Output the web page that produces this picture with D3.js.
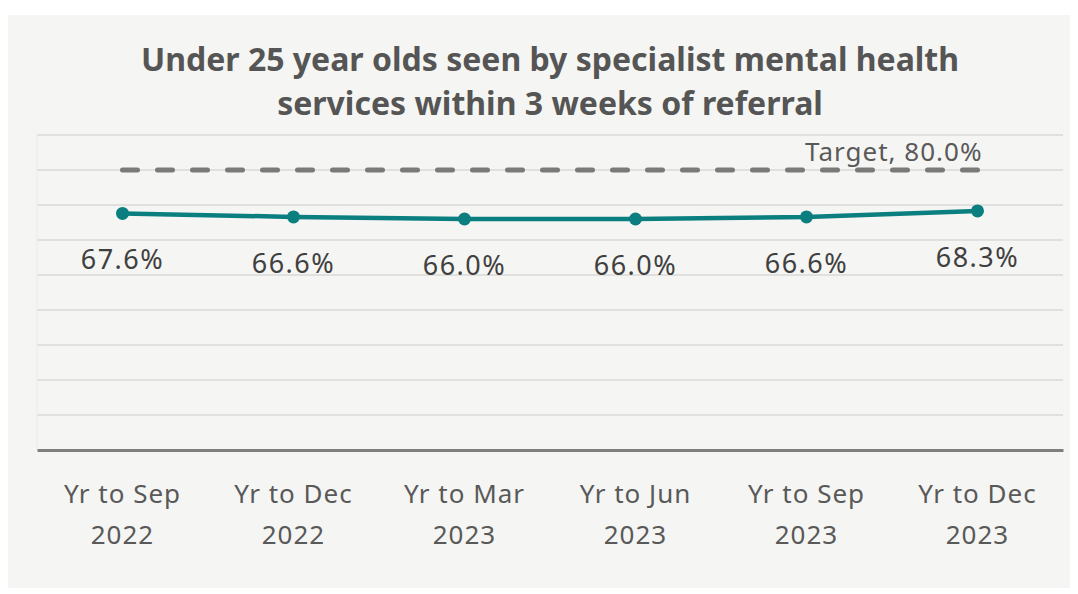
<!DOCTYPE html>
<html>
<head>
<meta charset="utf-8">
<script src="https://cdn.jsdelivr.net/npm/d3@7"></script>
<style>
  html, body { margin: 0; padding: 0; background: #ffffff; }
  svg { display: block; }
</style>
</head>
<body>
<svg id="chart" width="1078" height="594"></svg>
<script>
// Chart data
const periods = ["Yr to Sep 2022", "Yr to Dec 2022", "Yr to Mar 2023", "Yr to Jun 2023", "Yr to Sep 2023", "Yr to Dec 2023"];
const periodLines = [["Yr to Sep", "2022"], ["Yr to Dec", "2022"], ["Yr to Mar", "2023"], ["Yr to Jun", "2023"], ["Yr to Sep", "2023"], ["Yr to Dec", "2023"]];
const seenWithin3Weeks = [67.6, 66.6, 66.0, 66.0, 66.6, 68.3];
const targetValue = 80.0;
const gridTicks = [0, 10, 20, 30, 40, 50, 60, 70, 80, 90];
const titleLines = ["Under 25 year olds seen by specialist mental health", "services within 3 weeks of referral"];

const svg = d3.select("#chart");
const font = "'Noto Sans', sans-serif";

// Panel background
svg.append("rect")
  .attr("x", 8).attr("y", 15)
  .attr("width", 1062).attr("height", 573)
  .attr("fill", "#f5f5f3");

const plot = { left: 37, right: 1063, top: 135, bottom: 450 };

const x = d3.scaleBand().domain(periods).range([plot.left, plot.right]);
const y = d3.scaleLinear().domain([0, 90]).range([plot.bottom, plot.top]);
const cx = d => x(d) + x.bandwidth() / 2;

// Title
svg.append("g").selectAll("text")
  .data(titleLines)
  .join("text")
  .attr("x", 550)
  .attr("y", (d, i) => 71 + i * 44)
  .attr("text-anchor", "middle")
  .attr("font-family", font)
  .attr("font-weight", 700)
  .attr("font-size", 32)
  .attr("fill", "#555555")
  .text(d => d);

// Horizontal gridlines
svg.append("g").selectAll("line")
  .data(gridTicks.filter(t => t > 0))
  .join("line")
  .attr("x1", plot.left).attr("x2", plot.right)
  .attr("y1", d => y(d)).attr("y2", d => y(d))
  .attr("stroke", "#d9d9d7")
  .attr("stroke-width", 1.5);

// Faint left edge of the plot area
svg.append("line")
  .attr("x1", plot.left).attr("x2", plot.left)
  .attr("y1", y(90)).attr("y2", y(0))
  .attr("stroke", "#ebebe9").attr("stroke-width", 1);

// Baseline axis
const xAxis = d3.axisBottom(x).tickSize(0).tickFormat("");
const axisG = svg.append("g")
  .attr("transform", `translate(0,${y(0)})`)
  .call(xAxis);
axisG.select(".domain").attr("stroke", "#7f7f7f").attr("stroke-width", 3);

// Category labels (two lines each)
const catG = svg.append("g").selectAll("text")
  .data(periods)
  .join("text")
  .attr("x", d => cx(d))
  .attr("text-anchor", "middle")
  .attr("font-family", font)
  .attr("font-size", 26)
  .attr("letter-spacing", 1)
  .attr("fill", "#595959");
catG.selectAll("tspan")
  .data((d, i) => periodLines[i])
  .join("tspan")
  .attr("x", function () { return d3.select(this.parentNode).attr("x"); })
  .attr("y", (d, i) => 503 + i * 41)
  .text(d => d);

// Target dashed line
svg.append("line")
  .attr("x1", cx(periods[0])).attr("x2", cx(periods[periods.length - 1]))
  .attr("y1", y(targetValue)).attr("y2", y(targetValue))
  .attr("stroke", "#7a7a7a")
  .attr("stroke-width", 5)
  .attr("stroke-linecap", "round")
  .attr("stroke-dasharray", "15 20");

svg.append("text")
  .attr("x", cx(periods[periods.length - 1]) + 5)
  .attr("y", y(targetValue) - 9)
  .attr("text-anchor", "end")
  .attr("font-family", font)
  .attr("font-size", 26)
  .attr("letter-spacing", 1)
  .attr("fill", "#595959")
  .text(`Target, ${targetValue.toFixed(1)}%`);

// Series line
const series = periods.map((p, i) => ({ p, v: seenWithin3Weeks[i] }));
svg.append("path")
  .datum(series)
  .attr("fill", "none")
  .attr("stroke", "#0b7f80")
  .attr("stroke-width", 4.5)
  .attr("d", d3.line().x(d => cx(d.p)).y(d => y(d.v)));

svg.append("g").selectAll("circle")
  .data(series)
  .join("circle")
  .attr("cx", d => cx(d.p))
  .attr("cy", d => y(d.v))
  .attr("r", 6.5)
  .attr("fill", "#0b7f80");

// Value labels
svg.append("g").selectAll("text")
  .data(series)
  .join("text")
  .attr("x", d => cx(d.p))
  .attr("y", d => y(d.v) + 56)
  .attr("text-anchor", "middle")
  .attr("font-family", font)
  .attr("font-size", 27)
  .attr("letter-spacing", 1.5)
  .attr("fill", "#404040")
  .text(d => d.v.toFixed(1) + "%");
</script>
</body>
</html>
